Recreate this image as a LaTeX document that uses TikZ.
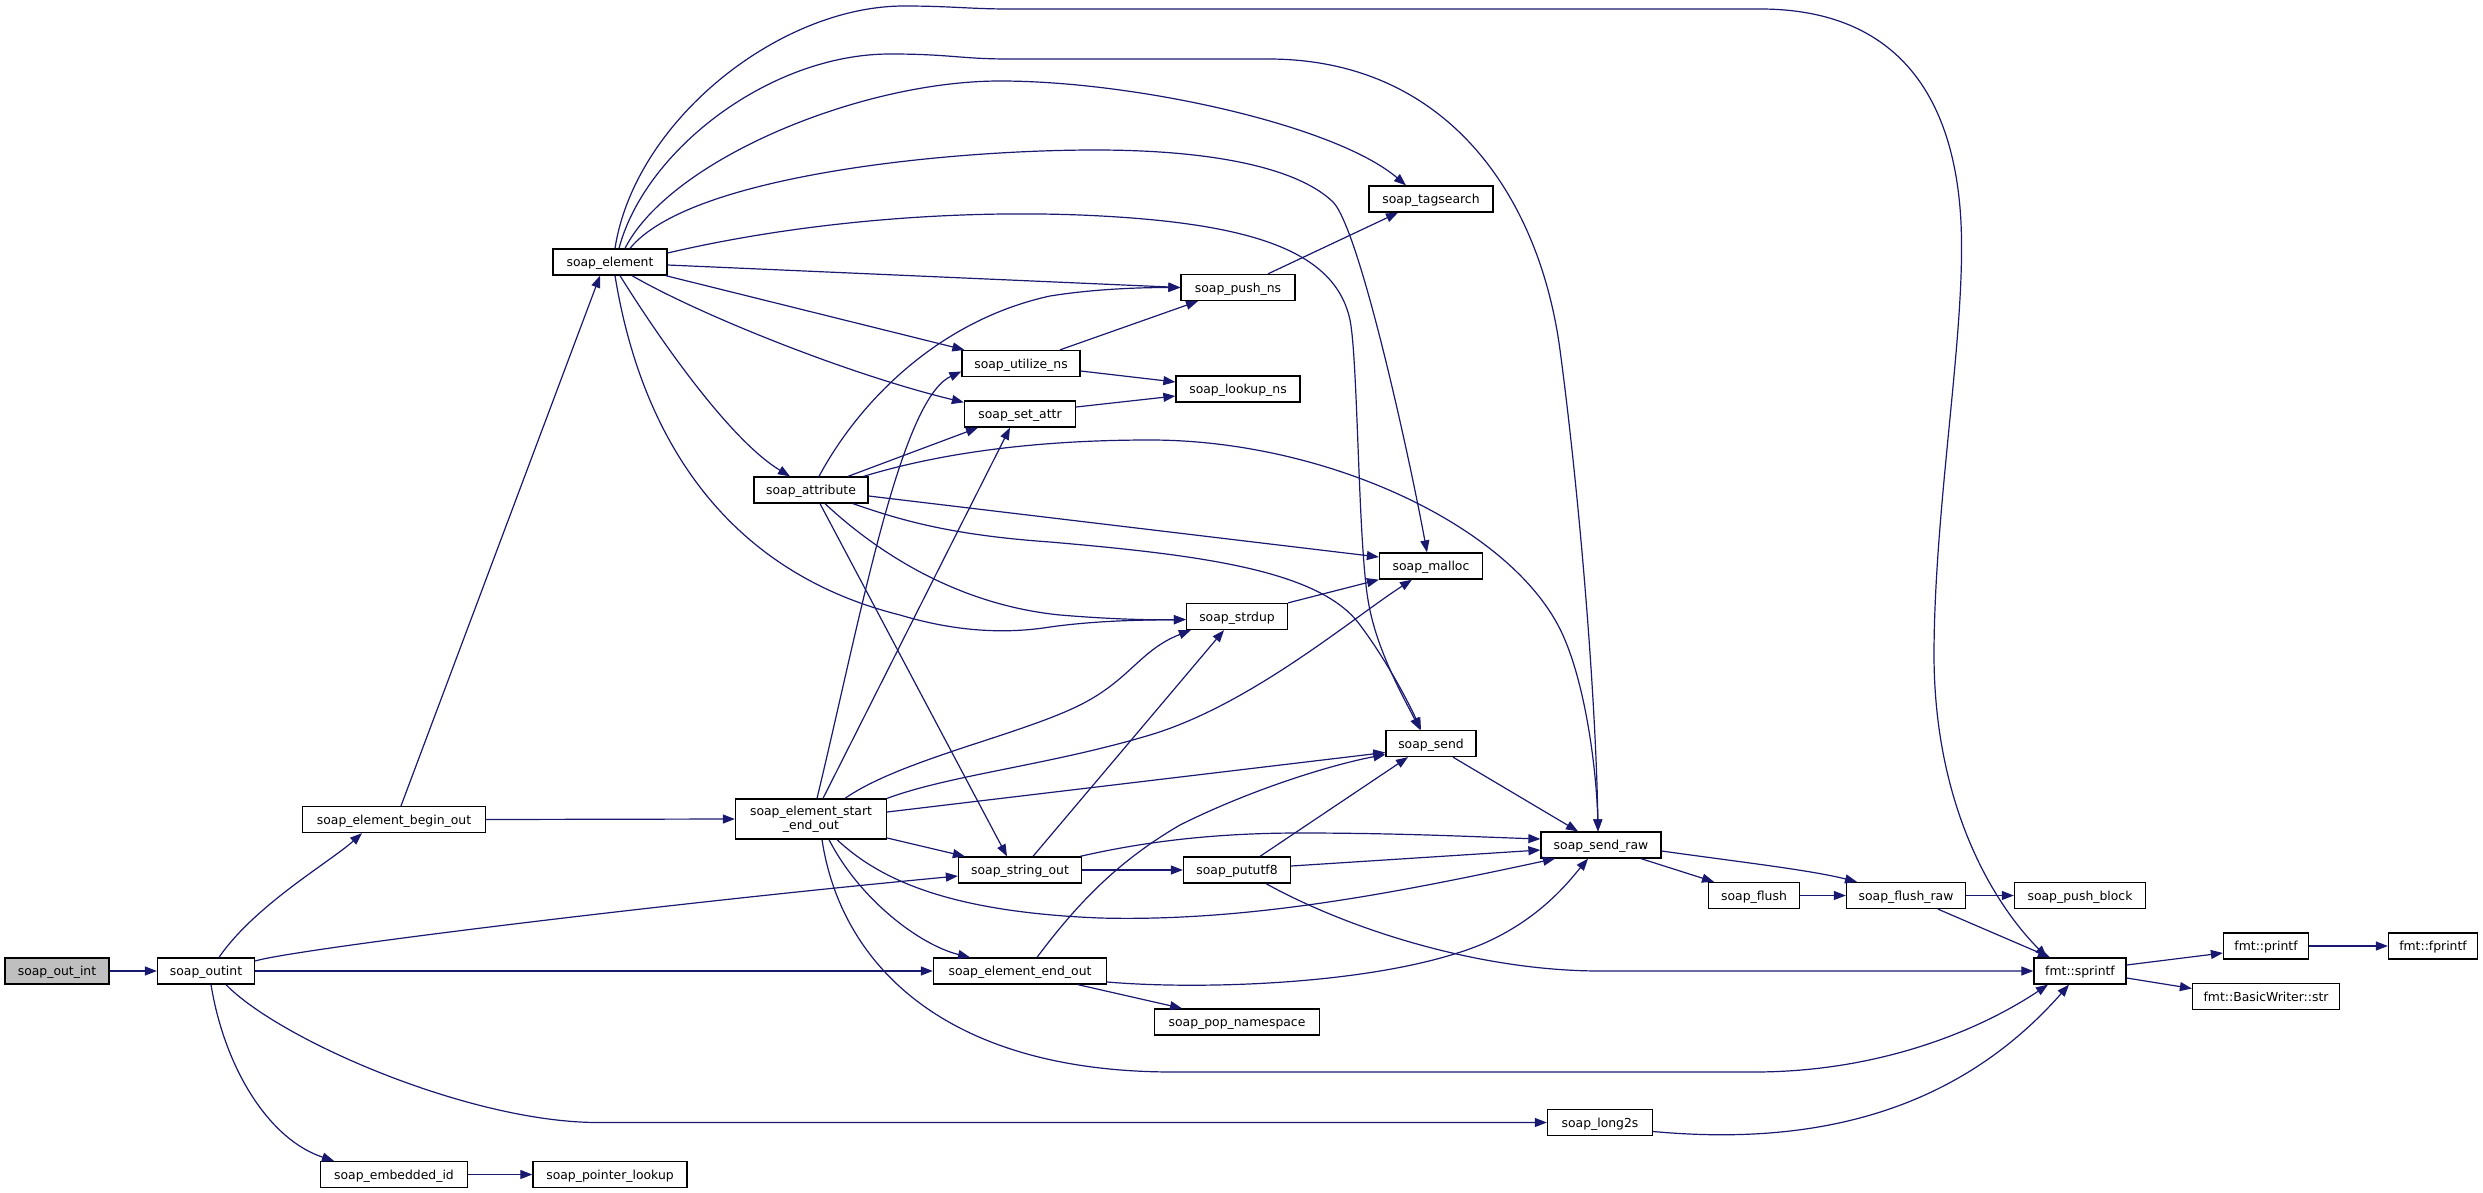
\documentclass[tikz,border=0pt]{standalone}
\usepackage{fontspec}
\setmainfont{DejaVu Sans}
\usetikzlibrary{arrows.meta}
\definecolor{edgeblue}{HTML}{191970}
\definecolor{boxgray}{HTML}{BFBFBF}
\begin{document}
\begin{tikzpicture}[x=1pt,y=-1pt,
  fn/.style={draw=black, line width=1.3pt, fill=white, minimum height=26pt, inner sep=0pt,
    font=\fontsize{12.4}{14}\selectfont, text height=9.4pt, text depth=0pt},
  fntwo/.style={draw=black, line width=1.3pt, fill=white, minimum height=40pt, inner sep=0pt,
    font=\fontsize{12.4}{14}\selectfont, align=center},
  call/.style={draw=edgeblue, line width=1.2pt, -{Triangle[length=12pt,width=9pt]}},
]
\fill[white] (0,0) rectangle (2483,1193);
\useasboundingbox (0,0) rectangle (2483,1193);

% nodes
\node[fn, fill=boxgray, minimum width=104pt] (sout) at (57,971) {soap\_out\_int};
\node[fn, minimum width=97pt] (soutint) at (206,971) {soap\_outint};
\node[fn, minimum width=183pt] (beginout) at (394,819.5) {soap\_element\_begin\_out};
\node[fn, minimum width=114pt] (element) at (610,262) {soap\_element};
\node[fntwo, minimum width=151pt] (startend) at (811,819) {soap\_element\_start\\\_end\_out};
\node[fn, minimum width=124pt] (tagsearch) at (1431,199) {soap\_tagsearch};
\node[fn, minimum width=114pt] (pushns) at (1238,287.5) {soap\_push\_ns};
\node[fn, minimum width=118pt] (utilize) at (1021,363.5) {soap\_utilize\_ns};
\node[fn, minimum width=124pt] (lookup) at (1238,389) {soap\_lookup\_ns};
\node[fn, minimum width=111pt] (setattr) at (1020,414) {soap\_set\_attr};
\node[fn, minimum width=114pt] (attribute) at (811,490) {soap\_attribute};
\node[fn, minimum width=103pt] (malloc) at (1431,566) {soap\_malloc};
\node[fn, minimum width=101pt] (strdup) at (1237,616.5) {soap\_strdup};
\node[fn, minimum width=90pt] (send) at (1431,743.5) {soap\_send};
\node[fn, minimum width=120pt] (sendraw) at (1601,845) {soap\_send\_raw};
\node[fn, minimum width=123pt] (stringout) at (1020,870) {soap\_string\_out};
\node[fn, minimum width=107pt] (pututf) at (1237,870) {soap\_pututf8};
\node[fn, minimum width=91pt] (flush) at (1754,895.5) {soap\_flush};
\node[fn, minimum width=119pt] (flushraw) at (1906,895.5) {soap\_flush\_raw};
\node[fn, minimum width=131pt] (pushblock) at (2080,895.5) {soap\_push\_block};
\node[fn, minimum width=173pt] (endout) at (1020,971) {soap\_element\_end\_out};
\node[fn, minimum width=165pt] (popns) at (1237,1022) {soap\_pop\_namespace};
\node[fn, minimum width=92pt] (sprintf) at (2080,971) {fmt::sprintf};
\node[fn, minimum width=85pt] (printf) at (2266,946) {fmt::printf};
\node[fn, minimum width=89pt] (fprintf) at (2433,946) {fmt::fprintf};
\node[fn, minimum width=147pt] (bwstr) at (2266,996.5) {fmt::BasicWriter::str};
\node[fn, minimum width=105pt] (long2s) at (1600,1122.5) {soap\_long2s};
\node[fn, minimum width=147pt] (embedded) at (394,1174.5) {soap\_embedded\_id};
\node[fn, minimum width=154pt] (pointer) at (610,1174.5) {soap\_pointer\_lookup};

% edges from soap_out_int / soap_outint
\draw[call] (sout.east) -- (soutint.west);
\draw[call] ([xshift=13]soutint.north) .. controls (255,905) and (330,862) .. ([xshift=-32]beginout.south);
\draw[call] ([yshift=10]soutint.east) .. controls (290,950) and (650,905) .. ([yshift=-6]stringout.west);
\draw[call] (soutint.east) -- (endout.west);
\draw[call] ([xshift=20]soutint.south) .. controls (280,1040) and (470,1122.5) .. (598,1122.5) -- (long2s.west);
\draw[call] ([xshift=5]soutint.south) .. controls (225,1070) and (270,1140) .. ([xshift=-60]embedded.north);
\draw[call] (embedded.east) -- (pointer.west);

% soap_element_begin_out
\draw[call] ([xshift=7]beginout.north) -- ([xshift=-10]element.south);
\draw[call] (beginout.east) -- (startend.west);

% soap_element
\draw[call] ([xshift=15]element.north) .. controls (670,160) and (860,81) .. (1000,81)
  .. controls (1135,81) and (1335,125) .. ([xshift=-25]tagsearch.north);
\draw[call] ([xshift=9]element.north) .. controls (645,150) and (770,54) .. (890,54)
  .. controls (950,54) and (960,59) .. (1009,59) -- (1268,59)
  .. controls (1450,59) and (1540,200) .. (1560,350)
  .. controls (1580,500) and (1596,700) .. ([xshift=-3]sendraw.north);
\draw[call] ([xshift=5]element.north) .. controls (635,120) and (780,6) .. (904,6)
  .. controls (950,6) and (970,9) .. (1009,9) -- (1760,9)
  .. controls (1900,9) and (1955,100) .. (1961,223)
  .. controls (1966,330) and (1935,500) .. (1934,650)
  .. controls (1933,800) and (1990,900) .. ([xshift=-33]sprintf.north);
\draw[call] ([xshift=20]element.north) .. controls (690,175) and (950,150) .. (1095,150)
  .. controls (1220,150) and (1300,170) .. (1333,202)
  .. controls (1360,230) and (1410,460) .. ([xshift=-4]malloc.north);
\draw[call] ([yshift=9]element.east) .. controls (800,222) and (950,210) .. (1080,215)
  .. controls (1250,222) and (1335,250) .. (1350,320)
  .. controls (1358,360) and (1358,540) .. (1368,600)
  .. controls (1376,650) and (1405,700) .. ([xshift=-11]send.north);
\draw[call] ([yshift=-3]element.east) -- (pushns.west);
\draw[call] ([xshift=-2]element.south east) -- ([xshift=3]utilize.north west);
\draw[call] ([xshift=22]element.south) .. controls (700,315) and (850,375) .. ([yshift=-2]setattr.north west);
\draw[call] ([xshift=10]element.south) .. controls (660,340) and (730,440) .. ([xshift=-21]attribute.north);
\draw[call] ([xshift=5]element.south) .. controls (640,430) and (720,570) .. (900,615)
  .. controls (950,630) and (1000,635) .. (1050,627)
  .. controls (1100,620) and (1150,620) .. ([yshift=-3]strdup.west);

% small ones near the top
\draw[call] ([xshift=30]pushns.north) -- ([xshift=-33]tagsearch.south);
\draw[call] ([xshift=39]utilize.north) -- ([xshift=-40]pushns.south);
\draw[call] ([yshift=-7.5]utilize.east) -- ([yshift=7]lookup.west);
\draw[call] ([yshift=7]setattr.east) -- ([yshift=-7]lookup.west);

% soap_attribute
\draw[call] ([xshift=8]attribute.north) .. controls (860,400) and (940,320) .. (1050,296)
  .. controls (1100,288) and (1150,287.5) .. (pushns.west);
\draw[call] ([xshift=37]attribute.north) -- ([xshift=-42]setattr.south);
\draw[call] ([xshift=-5]attribute.north east) .. controls (950,450) and (1050,440) .. (1150,440)
  .. controls (1330,440) and (1520,530) .. (1565,640)
  .. controls (1588,695) and (1597,780) .. ([xshift=-3]sendraw.north);
\draw[call] ([yshift=-6]attribute.east) -- ([yshift=9]malloc.west);
\draw[call] ([xshift=42]attribute.south) .. controls (900,520) and (950,535) .. (1050,542)
  .. controls (1200,555) and (1320,570) .. (1360,625)
  .. controls (1390,665) and (1412,710) .. ([xshift=-10]send.north);
\draw[call] ([xshift=14]attribute.south) .. controls (880,555) and (960,605) .. (1060,615)
  .. controls (1120,620) and (1160,620) .. ([yshift=-3]strdup.west);
\draw[call] ([xshift=9]attribute.south) -- ([xshift=-13]stringout.north);

% soap_element_start_end_out
\draw[call] ([xshift=6]startend.north) .. controls (860,620) and (900,400) .. ([yshift=-8]utilize.west);
\draw[call] ([xshift=12]startend.north) -- ([xshift=-10]setattr.south);
\draw[call] ([xshift=34]startend.north) .. controls (900,760) and (1020,735) .. (1080,705)
  .. controls (1130,680) and (1140,650) .. ([xshift=5]strdup.south west);
\draw[call] (startend.north east) .. controls (950,775) and (1050,765) .. (1150,735)
  .. controls (1250,705) and (1350,620) .. ([xshift=-19]malloc.south);
\draw[call] ([yshift=7]startend.east) -- ([yshift=-9]send.west);
\draw[call] ([yshift=-19]startend.east) -- ([xshift=7]stringout.north west);
\draw[call] ([xshift=26]startend.south) .. controls (880,880) and (950,912) .. (1100,918)
  .. controls (1250,922) and (1400,892) .. ([xshift=-46]sendraw.south);
\draw[call] ([xshift=18]startend.south) .. controls (860,900) and (920,945) .. ([xshift=-50]endout.north);
\draw[call] ([xshift=11]startend.south) .. controls (840,960) and (940,1072) .. (1173,1072) -- (1754,1072)
  .. controls (1880,1072) and (1980,1030) .. ([xshift=-32]sprintf.south);

% soap_string_out
\draw[call] ([xshift=13]stringout.north) -- ([xshift=-13]strdup.south);
\draw[call] ([xshift=-2]stringout.north east) .. controls (1130,845) and (1200,833) .. (1300,833)
  .. controls (1400,833) and (1480,837) .. ([yshift=6]sendraw.west);
\draw[call] (stringout.east) -- (pututf.west);

% soap_pututf8
\draw[call] ([xshift=23]pututf.north) -- ([xshift=-23]send.south);
\draw[call] ([yshift=4]pututf.east) -- ([yshift=-5]sendraw.west);
\draw[call] ([xshift=29]pututf.south) .. controls (1350,930) and (1480,971) .. (1600,971) -- (sprintf.west);

% soap_element_end_out
\draw[call] ([xshift=17]endout.north) .. controls (1080,900) and (1120,860) .. (1180,825)
  .. controls (1250,790) and (1330,765) .. ([yshift=-11]send.west);
\draw[call] ([yshift=-11]endout.east) .. controls (1200,990) and (1380,985) .. (1480,945)
  .. controls (1540,920) and (1570,880) .. ([xshift=-13]sendraw.south);
\draw[call] ([xshift=58]endout.south) -- ([xshift=-55]popns.north);

% others
\draw[call] (strdup.north east) -- (malloc.south west);
\draw[call] ([xshift=22]send.south) -- ([xshift=-23]sendraw.north);
\draw[call] ([xshift=40]sendraw.south) -- ([xshift=-40]flush.north);
\draw[call] ([yshift=-6]sendraw.east) .. controls (1740,862) and (1810,870) .. ([xshift=-49]flushraw.north);
\draw[call] (flush.east) -- (flushraw.west);
\draw[call] (flushraw.east) -- (pushblock.west);
\draw[call] ([xshift=32]flushraw.south) -- ([xshift=-30]sprintf.north);
\draw[call] ([yshift=6]sprintf.east) -- ([yshift=-7]printf.west);
\draw[call] ([yshift=-7]sprintf.east) -- ([yshift=8]bwstr.west);
\draw[call] (printf.east) -- (fprintf.west);
\draw[call] ([yshift=-9]long2s.east) .. controls (1800,1145) and (1950,1120) .. ([xshift=-11]sprintf.south);
\end{tikzpicture}
\end{document}
